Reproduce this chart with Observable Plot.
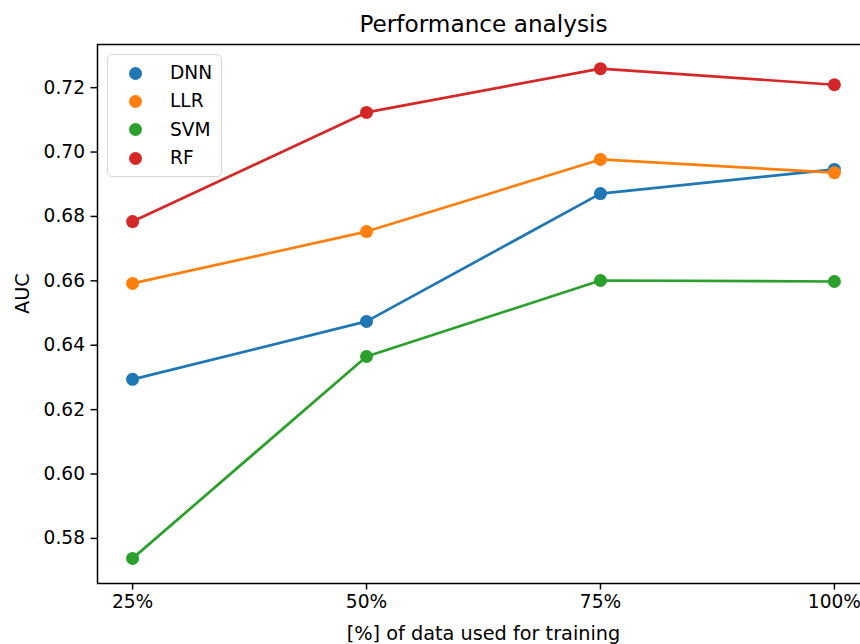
<!DOCTYPE html>
<html>
<head>
<meta charset="utf-8">
<script src="https://cdn.jsdelivr.net/npm/d3@7"></script>
<script src="https://cdn.jsdelivr.net/npm/@observablehq/plot@0.6"></script>
<style>
  body { margin: 0; background: #fff; }
  #wrap { position: relative; width: 860px; height: 644px; overflow: hidden; font-family: "DejaVu Sans", sans-serif; }
  #legend { position: absolute; left: 107px; top: 54px; width: 115px; height: 123px; border: 1px solid #d6d6d6; border-radius: 5px; background: rgba(255,255,255,0.8); box-sizing: border-box; }
  .item { position: absolute; left: 0; height: 28px; display: flex; align-items: center; font-size: 18.6px; color: #000; }
  .sw { position: absolute; left: 21px; width: 13px; height: 13px; border-radius: 50%; }
  .lab { position: absolute; left: 62px; white-space: nowrap; line-height: 1; }
</style>
</head>
<body>
<div id="wrap"><div id="chart"></div><div id="legend"></div></div>
<script>
const xValues = [25, 50, 75, 100];
const xTickLabels = ["25%", "50%", "75%", "100%"];
const seriesNames = ["DNN", "LLR", "SVM", "RF"];
const seriesColors = ["#1f77b4", "#ff7f0e", "#2ca02c", "#d62728"];
const dnn = [0.6294, 0.6474, 0.6871, 0.6946];
const llr = [0.6592, 0.6753, 0.6977, 0.6936];
const svm = [0.5738, 0.6365, 0.6601, 0.6598];
const rf  = [0.6784, 0.7123, 0.7259, 0.7209];
const yTicks = [0.58, 0.60, 0.62, 0.64, 0.66, 0.68, 0.70, 0.72];
const title = "Performance analysis";
const xLabel = "[%] of data used for training";
const yLabel = "AUC";

const allValues = [dnn, llr, svm, rf];
const rows = [];
seriesNames.forEach((s, i) => xValues.forEach((x, j) => rows.push({series: s, x, y: allValues[i][j]})));

const marks = [];
seriesNames.forEach((s, i) => {
  const d = rows.filter(r => r.series === s);
  marks.push(Plot.line(d, {x: "x", y: "y", stroke: seriesColors[i], strokeWidth: 2.7}));
  marks.push(Plot.dot(d, {x: "x", y: "y", fill: seriesColors[i], r: 6.5, stroke: "none"}));
});

const chart = Plot.plot({
  width: 860,
  height: 644,
  marginLeft: 97,
  marginRight: -9,
  marginTop: 44,
  marginBottom: 61,
  style: {fontFamily: "DejaVu Sans, sans-serif", fontSize: "18.6px", color: "#000", background: "#fff", overflow: "hidden"},
  x: {domain: [21.25, 103.75]},
  y: {domain: [0.5660, 0.7334]},
  marks: [
    ...marks,
    Plot.frame({stroke: "#000", strokeWidth: 1.5}),
    Plot.axisY({ticks: yTicks, tickFormat: d => d.toFixed(2), tickSize: 6.5, tickPadding: 6, strokeWidth: 1.5, label: null, fontSize: 18.6}),
    Plot.axisX({ticks: xValues, tickFormat: d => xTickLabels[xValues.indexOf(d)], tickSize: 6.5, tickPadding: 5, strokeWidth: 1.5, label: null, fontSize: 18.6}),
    Plot.text([title], {text: d => d, frameAnchor: "top", lineAnchor: "middle", dy: -20, fontSize: 23.2, fill: "#000"}),
    Plot.text([yLabel], {text: d => d, frameAnchor: "left", lineAnchor: "middle", rotate: -90, dx: -75, fontSize: 19.3, fill: "#000"}),
    Plot.text([xLabel], {text: d => d, frameAnchor: "bottom", lineAnchor: "middle", dy: 50, fontSize: 19.3, fill: "#000"})
  ]
});
document.getElementById("chart").appendChild(chart);

const legend = document.getElementById("legend");
seriesNames.forEach((s, i) => {
  const it = document.createElement("div");
  it.className = "item";
  it.style.top = (4 + i * 28.4) + "px";
  const sw = document.createElement("span");
  sw.className = "sw";
  sw.style.background = seriesColors[i];
  const lab = document.createElement("span");
  lab.className = "lab";
  lab.textContent = s;
  it.appendChild(sw);
  it.appendChild(lab);
  legend.appendChild(it);
});
</script>
</body>
</html>
